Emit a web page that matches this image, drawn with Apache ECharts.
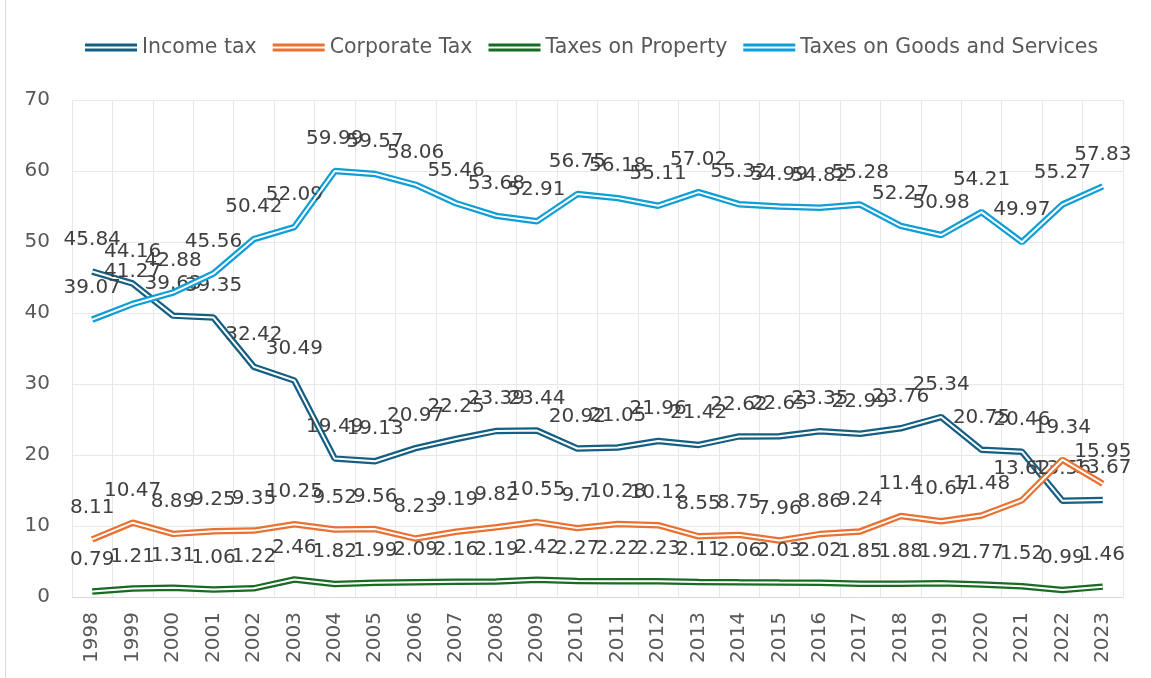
<!DOCTYPE html>
<html>
<head>
<meta charset="utf-8">
<script src="https://cdn.jsdelivr.net/npm/echarts@6/dist/echarts.min.js"></script>
<style>
html,body{margin:0;padding:0;background:#fff;}
#frame{position:absolute;left:5px;top:0;width:1px;height:678px;background:#d9d9d9;}
#chart{position:absolute;left:0;top:0;width:1151px;height:678px;}
</style>
</head>
<body>
<div id="chart"></div>
<div id="frame"></div>
<script>
const years = ['1998','1999','2000','2001','2002','2003','2004','2005','2006','2007','2008','2009','2010','2011','2012','2013','2014','2015','2016','2017','2018','2019','2020','2021','2022','2023'];
const incomeTax = [45.84,44.16,39.63,39.35,32.42,30.49,19.49,19.13,20.97,22.25,23.39,23.44,20.92,21.05,21.96,21.42,22.62,22.65,23.35,22.99,23.76,25.34,20.75,20.46,13.56,13.67];
const corporateTax = [8.11,10.47,8.89,9.25,9.35,10.25,9.52,9.56,8.23,9.19,9.82,10.55,9.7,10.28,10.12,8.55,8.75,7.96,8.86,9.24,11.4,10.67,11.48,13.62,19.34,15.95];
const propertyTax = [0.79,1.21,1.31,1.06,1.22,2.46,1.82,1.99,2.09,2.16,2.19,2.42,2.27,2.22,2.23,2.11,2.06,2.03,2.02,1.85,1.88,1.92,1.77,1.52,0.99,1.46];
const goodsServices = [39.07,41.27,42.88,45.56,50.42,52.09,59.99,59.57,58.06,55.46,53.68,52.91,56.75,56.18,55.11,57.02,55.32,54.99,54.82,55.28,52.27,50.98,54.21,49.97,55.27,57.83];
const yTicks = [0,10,20,30,40,50,60,70];

const names = ['Income tax','Corporate Tax','Taxes on Property','Taxes on Goods and Services'];
const colors = ['#156082','#E97132','#196B24','#0F9ED5'];
const datas = [incomeTax, corporateTax, propertyTax, goodsServices];
const FONT = '"DejaVu Sans", sans-serif';

const series = [];
names.forEach((n,i)=>{
  series.push({
    name:n, type:'line', data:datas[i], symbol:'circle', symbolSize:0, showSymbol:true,
    lineStyle:{color:colors[i], width:6.5}, itemStyle:{color:colors[i]},
    z: 2+i*2,
    label:{show:true, position:'top', distance:22, color:'#404040', fontSize:20, fontFamily:FONT},
    labelLayout:{hideOverlap:false}
  });
  series.push({
    name:'_w'+i, type:'line', data:datas[i], symbol:'none', showSymbol:false, silent:true,
    lineStyle:{color:'#ffffff', width:2}, z:3+i*2, label:{show:false}, tooltip:{show:false}
  });
});

const chart = echarts.init(document.getElementById('chart'), null, {renderer:'canvas'});
chart.setOption({
  animation:false,
  backgroundColor:'#ffffff',
  textStyle:{fontFamily:FONT},
  legend:{
    data:names, left:80, top:32, itemGap:16, itemWidth:52, itemHeight:8,
    icon:'path://M0,0H52V3H0Z M0,5H52V8H0Z',
    textStyle:{fontSize:20.5, color:'#595959', fontFamily:FONT}
  },
  grid:{left:72, right:28, top:100, bottom:81, containLabel:false},
  xAxis:{
    type:'category', data:years, boundaryGap:true,
    axisLine:{show:true, lineStyle:{color:'#d9d9d9', width:1}},
    axisTick:{show:false},
    splitLine:{show:true, lineStyle:{color:'#e8e8e8', width:1}},
    axisLabel:{rotate:90, fontSize:20, color:'#595959', fontFamily:FONT, margin:15, interval:0}
  },
  yAxis:{
    type:'value', min:yTicks[0], max:yTicks[yTicks.length-1], interval:10,
    axisLine:{show:false}, axisTick:{show:false},
    splitLine:{show:true, lineStyle:{color:'#e8e8e8', width:1}},
    axisLabel:{fontSize:20, color:'#595959', fontFamily:FONT, margin:22}
  },
  series:series
});
</script>
</body>
</html>
